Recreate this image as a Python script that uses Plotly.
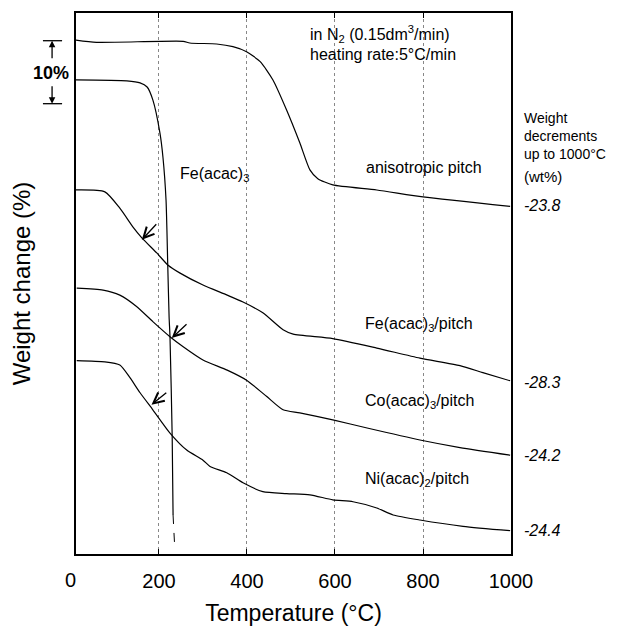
import plotly.graph_objects as go

# ---- data (weight change %, curves vertically offset as in the figure) ----
temp_aniso = [11, 58, 255, 270, 331, 368, 399, 430, 459, 490, 520, 543, 561, 595, 695, 800, 998]
wt_aniso = [-4.29, -4.65, -4.49, -4.76, -4.92, -5.35, -6.14, -7.73, -10.63, -15.4, -20.6, -24.9, -26.3, -27.3, -28.1, -29.2, -30.7]

temp_fe = [11, 127, 157, 173, 186, 202, 209, 216, 220, 223, 225, 230, 232]
wt_fe = [-10.63, -10.79, -11.1, -11.75, -13.8, -19.0, -22.9, -29.7, -40.3, -48.3, -51.4, -67.3, -79.7]
temp_fe_dash = [232, 236]
wt_fe_dash = [-79.7, -85.2]

temp_fep = [11, 77, 111, 141, 161, 195, 220, 248, 300, 355, 391, 436, 482, 505, 595, 695, 793, 884, 936, 998]
wt_fep = [-28.1, -28.4, -31.0, -34.0, -35.7, -38.1, -40.0, -41.3, -43.2, -44.8, -45.9, -47.6, -50.3, -51.0, -51.7, -53.2, -54.8, -56.0, -57.1, -58.4]

temp_cop = [13, 73, 111, 149, 186, 225, 255, 300, 355, 399, 445, 482, 520, 595, 673, 793, 884, 998]
wt_cop = [-43.7, -44.0, -44.8, -46.6, -49.0, -51.4, -53.0, -55.1, -56.7, -58.3, -60.9, -63.0, -63.5, -64.6, -65.9, -67.8, -69.0, -70.2]

temp_nip = [13, 77, 111, 134, 157, 186, 225, 263, 300, 316, 354, 391, 436, 490, 543, 595, 641, 695, 732, 793, 891, 998]
wt_nip = [-55.2, -55.4, -55.9, -57.9, -60.3, -63.0, -66.7, -69.4, -71.0, -72.0, -73.0, -74.6, -76.0, -76.3, -76.5, -77.3, -77.6, -78.6, -79.7, -80.5, -81.5, -82.2]

x_ticks = [200, 400, 600, 800, 1000]
x_tick_text = ["200", "400", "600", "800", "1000"]

decrements = ["-23.8", "-28.3", "-24.2", "-24.4"]
decrement_y = [-30.5, -58.6, -70.2, -82.1]

header_text = "Weight<br>decrements<br>up to 1000°C"
unit_text = "(wt%)"

curve_labels = ["anisotropic pitch", "Fe(acac)<sub>3</sub>", "Fe(acac)<sub>3</sub>/pitch",
                "Co(acac)<sub>3</sub>/pitch", "Ni(acac)<sub>2</sub>/pitch"]
curve_label_x = [666, 243, 664, 664, 664]
curve_label_y = [-24.6, -25.7, -49.5, -61.7, -74.1]

# arrows marking onset on catalyst/pitch curves: (head x, head y, tail x, tail y)
arrow_head_x = [161, 229, 183]
arrow_head_y = [-36.0, -51.6, -62.2]
arrow_tail_x = [197, 266, 220]
arrow_tail_y = [-33.3, -49.2, -60.1]

FONT = "Liberation Sans, Arial, Helvetica, sans-serif"
TXT = 16

fig = go.Figure()
line = dict(color="black", width=1.2)
for xs, ys in [(temp_aniso, wt_aniso), (temp_fe, wt_fe), (temp_fep, wt_fep),
               (temp_cop, wt_cop), (temp_nip, wt_nip)]:
    fig.add_trace(go.Scatter(x=xs, y=ys, mode="lines", line=dict(line, shape="spline", smoothing=0.6),
                             showlegend=False, hoverinfo="skip"))
fig.add_trace(go.Scatter(x=temp_fe_dash, y=wt_fe_dash, mode="lines",
                         line=dict(color="black", width=1, dash="dash"),
                         showlegend=False, hoverinfo="skip"))

annotations = []
for t, x, y in zip(curve_labels, curve_label_x, curve_label_y):
    annotations.append(dict(x=x, y=y, xref="x", yref="y", text=t, showarrow=False,
                            xanchor="left", yanchor="middle", font=dict(size=TXT, color="black")))
for hx, hy, tx, ty in zip(arrow_head_x, arrow_head_y, arrow_tail_x, arrow_tail_y):
    annotations.append(dict(x=hx, y=hy, ax=tx, ay=ty, xref="x", yref="y", axref="x", ayref="y",
                            text="", showarrow=True, arrowhead=5, arrowsize=1.6,
                            arrowwidth=1.3, arrowcolor="black"))
for t, y in zip(decrements, decrement_y):
    annotations.append(dict(x=1.025, y=y, xref="paper", yref="y", text=f"<i>{t}</i>",
                            showarrow=False, xanchor="left", yanchor="middle",
                            font=dict(size=TXT, color="black")))
annotations.append(dict(x=1.025, y=-19.6, xref="paper", yref="y", text=header_text,
                        align="left", showarrow=False, xanchor="left", yanchor="middle",
                        font=dict(size=14, color="black")))
annotations.append(dict(x=1.025, y=-26.0, xref="paper", yref="y", text=unit_text,
                        showarrow=False, xanchor="left", yanchor="middle",
                        font=dict(size=15, color="black")))
annotations.append(dict(x=0.533, y=-3.33, xref="paper", yref="y",
                        text="in N<sub>2</sub> (0.15dm<sup>3</sup>/min)",
                        showarrow=False, xanchor="left", yanchor="middle",
                        font=dict(size=TXT, color="black")))
annotations.append(dict(x=0.533, y=-6.6, xref="paper", yref="y",
                        text="heating rate:5°C/min",
                        showarrow=False, xanchor="left", yanchor="middle",
                        font=dict(size=TXT, color="black")))
# "0" tick label (axis starts slightly above 0 °C)
annotations.append(dict(x=-0.0115, y=0, xref="paper", yref="paper", text="0", showarrow=False,
                        xanchor="center", yanchor="middle", yshift=-26,
                        font=dict(size=20, color="black")))
# 10 % scale bar
annotations.append(dict(x=-0.057, y=-9.5, xref="paper", yref="y", text="<b>10%</b>",
                        showarrow=False, xanchor="center", yanchor="middle",
                        font=dict(size=18, color="black")))
annotations.append(dict(x=-0.055, y=-4.4, xref="paper", yref="y", ax=0, ay=19, text="",
                        showarrow=True, arrowhead=2, arrowsize=1, arrowwidth=1.3, arrowcolor="black"))
annotations.append(dict(x=-0.055, y=-14.4, xref="paper", yref="y", ax=0, ay=-19, text="",
                        showarrow=True, arrowhead=2, arrowsize=1, arrowwidth=1.3, arrowcolor="black"))

shapes = [
    dict(type="line", xref="paper", yref="y", x0=-0.076, x1=-0.032, y0=-4.4, y1=-4.4,
         line=dict(color="black", width=1.3)),
    dict(type="line", xref="paper", yref="y", x0=-0.076, x1=-0.032, y0=-14.4, y1=-14.4,
         line=dict(color="black", width=1.3)),
]

fig.update_layout(
    width=612, height=618,
    margin=dict(l=68, r=109, t=5, b=72),
    paper_bgcolor="white", plot_bgcolor="white",
    font=dict(family=FONT, color="black"),
    annotations=annotations, shapes=shapes,
    xaxis=dict(range=[11.4, 1000], tickvals=x_ticks, ticktext=x_tick_text,
               tickfont=dict(size=20), ticks="inside", ticklen=5, tickcolor="black",
               ticklabelstandoff=8,
               showline=True, linecolor="black", linewidth=2, mirror="ticks",
               showgrid=True, gridcolor="#888", griddash="dot", gridwidth=1,
               zeroline=False, automargin=False,
               title=dict(text="Temperature (°C)", font=dict(size=23), standoff=27)),
    yaxis=dict(range=[-85.9, 0], showticklabels=False, ticks="",
               showline=True, linecolor="black", linewidth=2, mirror=True,
               showgrid=False, zeroline=False, automargin=False,
               title=dict(text="Weight change (%)", font=dict(size=24), standoff=37)),
)

fig.write_html("out.html")
